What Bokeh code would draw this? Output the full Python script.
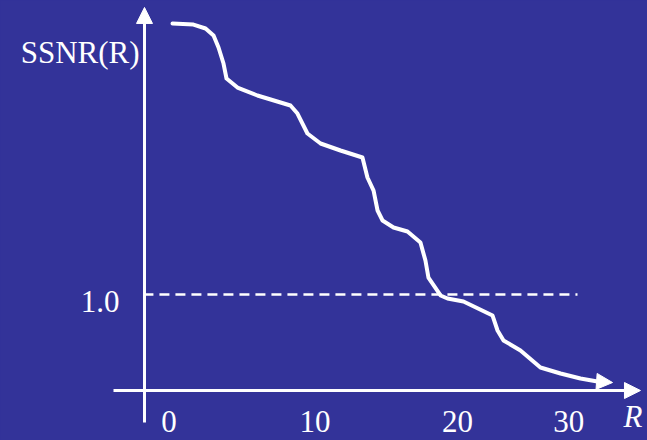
from bokeh.plotting import figure
from bokeh.models import Range1d, Arrow, NormalHead, ColumnDataSource, GlobalInlineStyleSheet
from bokeh.core.properties import value
from bokeh.embed import file_html
from bokeh.resources import INLINE

BG = "#333399"

# Curve data: resolution R vs. SSNR(R) (schematic)
r_vals = [0.00, 1.47, 2.32, 2.88, 3.23, 3.58, 3.79, 4.56, 5.96, 8.28, 8.77, 9.47,
          10.39, 11.79, 13.33, 13.68, 14.11, 14.39, 14.74, 15.51, 16.49, 17.40,
          17.75, 17.96, 18.81, 19.30, 20.42, 22.46, 22.81, 23.23, 24.42, 25.82,
          27.23, 28.63, 29.82]
ssnr_vals = [3.823, 3.812, 3.771, 3.698, 3.573, 3.406, 3.250, 3.156, 3.073, 2.969,
             2.885, 2.677, 2.573, 2.500, 2.427, 2.219, 2.083, 1.875, 1.771, 1.698,
             1.656, 1.542, 1.354, 1.177, 0.990, 0.958, 0.927, 0.781, 0.625, 0.521,
             0.417, 0.240, 0.177, 0.125, 0.094]
curve_tip = (30.88, 0.083)

tick_labels = ["0", "10", "20", "30"]
tick_pos = [-0.25, 10.0, 20.0, 27.8]
threshold = 1.0
threshold_label = "1.0"
threshold_span = (-2.04, 28.42)
y_label = "SSNR(R)"
x_label = "R"

# axis geometry (data units)
x_axis = dict(x0=-4.14, x1=32.84, y=0.0)
y_axis = dict(x=-1.965, y0=-0.333, y1=3.99)

p = figure(width=647, height=440,
           x_range=Range1d(-12.070, 33.333), y_range=Range1d(-0.5208, 4.0625),
           output_backend="svg", toolbar_location=None, min_border=0,
           x_axis_type=None, y_axis_type=None)
p.grid.visible = False
p.outline_line_color = None
p.background_fill_color = BG
p.border_fill_color = BG
p.stylesheets = [GlobalInlineStyleSheet(css="html, body { background: %s; }" % BG)]

head = lambda: NormalHead(size=16, fill_color="white", line_color="white", line_width=1)

# axes with arrow heads
p.add_layout(Arrow(end=head(), x_start=x_axis["x0"], y_start=x_axis["y"],
                   x_end=x_axis["x1"], y_end=x_axis["y"], line_color="white", line_width=3))
p.add_layout(Arrow(end=head(), x_start=y_axis["x"], y_start=y_axis["y0"],
                   x_end=y_axis["x"], y_end=y_axis["y1"], line_color="white", line_width=3))

# threshold dashed line
p.line(x=list(threshold_span), y=[threshold, threshold], line_color="white",
       line_width=2.5, line_dash="10 6")

# curve
src = ColumnDataSource(dict(r=r_vals, s=ssnr_vals))
p.line(x="r", y="s", source=src, line_color="white", line_width=4,
       line_join="round", line_cap="round")
p.add_layout(Arrow(end=head(), x_start=r_vals[-1], y_start=ssnr_vals[-1],
                   x_end=curve_tip[0], y_end=curve_tip[1], line_color="white", line_width=4))

font = value("Liberation Serif")
fs = "31px"
# tick labels
p.text(x=tick_pos, y=[-0.32] * len(tick_pos), text=tick_labels, text_font=font,
       text_font_size=fs, text_color="white", text_align="center",
       text_baseline="alphabetic")
# threshold label
p.text(x=[-3.72], y=[0.93], text=[threshold_label], text_font=font,
       text_font_size=fs, text_color="white", text_align="right",
       text_baseline="alphabetic")
# y label
p.text(x=[-10.65], y=[3.52], text=[y_label], text_font=font,
       text_font_size=fs, text_color="white", text_align="left",
       text_baseline="alphabetic")
# x label
p.text(x=[31.65], y=[-0.27], text=[x_label], text_font=font,
       text_font_size=fs, text_font_style="italic", text_color="white",
       text_align="left", text_baseline="alphabetic")

open("out.html", "w").write(file_html(p, INLINE))
